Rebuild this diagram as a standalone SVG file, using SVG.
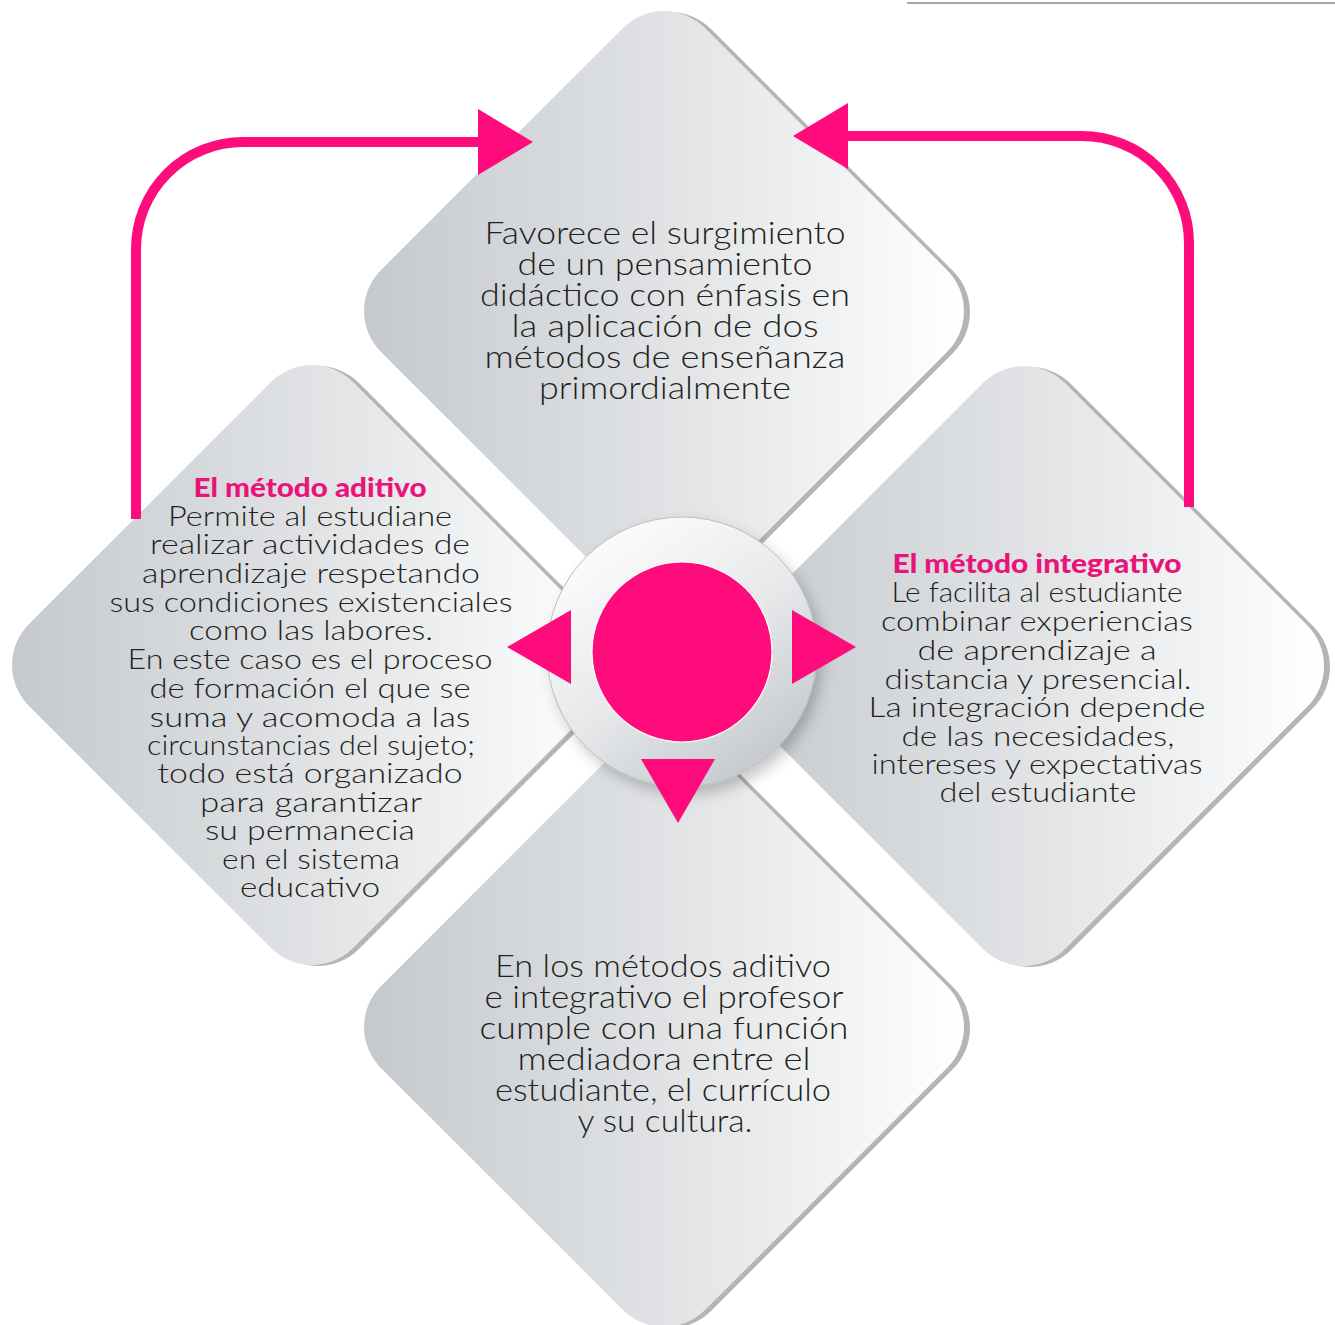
<svg xmlns="http://www.w3.org/2000/svg" xmlns:xlink="http://www.w3.org/1999/xlink" width="1335" height="1325" viewBox="0 0 1335 1325">
<style>
.body{font-family:Lato,"Open Sans","Liberation Sans",sans-serif;font-weight:300;fill:#231f20;text-anchor:middle}
.t32{font-size:32px}
.t28{font-size:28px}
.title{font-family:Lato,"Open Sans","Liberation Sans",sans-serif;font-weight:900;font-size:27px;fill:#e8147a;text-anchor:middle}
.shadow{fill:#b5b5b5}
.face{fill:url(#gFace)}
.pink{fill:#ff0c7c}
.conn{fill:none;stroke:#ff0c7c;stroke-width:10}
</style>
<defs>
<linearGradient id="gFace" x1="0" y1="0" x2="1" y2="0">
<stop offset="0" stop-color="#c5c9ce"/>
<stop offset="0.55" stop-color="#e3e5e7"/>
<stop offset="1" stop-color="#ffffff"/>
</linearGradient>
<linearGradient id="gRing" x1="0.2" y1="0.1" x2="0.8" y2="0.95">
<stop offset="0" stop-color="#fbfbfc"/>
<stop offset="0.5" stop-color="#e6e8ea"/>
<stop offset="1" stop-color="#c4c8cc"/>
</linearGradient>
<filter id="fShadow" x="-20%" y="-20%" width="150%" height="150%">
<feDropShadow dx="5" dy="7" stdDeviation="7" flood-color="#000" flood-opacity="0.22"/>
</filter>
<path id="dia" d="M-41.01,-282.99 A58,58 0 0 1 41.01,-282.99 L282.99,-41.01 A58,58 0 0 1 282.99,41.01 L41.01,282.99 A58,58 0 0 1 -41.01,282.99 L-282.99,41.01 A58,58 0 0 1 -282.99,-41.01 Z"/>
<marker id="arrow" viewBox="0 0 55 66" refX="12" refY="33" markerWidth="55" markerHeight="66" markerUnits="userSpaceOnUse" orient="auto">
<path d="M0,0 L55,33 L0,66 Z" fill="#ff0c7c"/>
</marker>
</defs>
<rect width="1335" height="1325" fill="#ffffff"/>
<line x1="907" y1="3" x2="1335" y2="3" stroke="#8a8a8a" stroke-width="1.6"/>

<g id="node-top">
<use href="#dia" class="shadow" transform="translate(670,312)"/>
<use href="#dia" class="face" transform="translate(664,311)"/>
<text class="body t32"><tspan x="665" y="244" textLength="361" lengthAdjust="spacingAndGlyphs">Favorece el surgimiento</tspan><tspan x="665" y="275" textLength="295" lengthAdjust="spacingAndGlyphs">de un pensamiento</tspan><tspan x="665" y="306" textLength="370" lengthAdjust="spacingAndGlyphs">didáctico con énfasis en</tspan><tspan x="665" y="337" textLength="307" lengthAdjust="spacingAndGlyphs">la aplicación de dos</tspan><tspan x="665" y="368" textLength="361" lengthAdjust="spacingAndGlyphs">métodos de enseñanza</tspan><tspan x="665" y="399" textLength="252" lengthAdjust="spacingAndGlyphs">primordialmente</tspan></text>
</g>

<g id="node-left">
<use href="#dia" class="shadow" transform="translate(318,666)"/>
<use href="#dia" class="face" transform="translate(312,665)"/>
<text class="title" x="310" y="497" textLength="233" lengthAdjust="spacingAndGlyphs">El método aditivo</text>
<text class="body t28"><tspan x="310" y="526" textLength="284" lengthAdjust="spacingAndGlyphs">Permite al estudiane</tspan><tspan x="310" y="554" textLength="320" lengthAdjust="spacingAndGlyphs">realizar actividades de</tspan><tspan x="311" y="583" textLength="338" lengthAdjust="spacingAndGlyphs">aprendizaje respetando</tspan><tspan x="311" y="612" textLength="403" lengthAdjust="spacingAndGlyphs">sus condiciones existenciales</tspan><tspan x="311" y="640" textLength="244" lengthAdjust="spacingAndGlyphs">como las labores.</tspan><tspan x="310" y="669" textLength="365" lengthAdjust="spacingAndGlyphs">En este caso es el proceso</tspan><tspan x="310" y="698" textLength="321" lengthAdjust="spacingAndGlyphs">de formación el que se</tspan><tspan x="310" y="727" textLength="321" lengthAdjust="spacingAndGlyphs">suma y acomoda a las</tspan><tspan x="311" y="755" textLength="328" lengthAdjust="spacingAndGlyphs">circunstancias del sujeto;</tspan><tspan x="310" y="783" textLength="305" lengthAdjust="spacingAndGlyphs">todo está organizado</tspan><tspan x="311" y="812" textLength="222" lengthAdjust="spacingAndGlyphs">para garantizar</tspan><tspan x="310" y="840" textLength="210" lengthAdjust="spacingAndGlyphs">su permanecia</tspan><tspan x="311" y="869" textLength="178" lengthAdjust="spacingAndGlyphs">en el sistema</tspan><tspan x="310" y="897" textLength="140" lengthAdjust="spacingAndGlyphs">educativo</tspan></text>
</g>

<g id="node-right">
<use href="#dia" class="shadow" transform="translate(1030,667)"/>
<use href="#dia" class="face" transform="translate(1024,666)"/>
<text class="title" x="1037" y="573" textLength="289" lengthAdjust="spacingAndGlyphs">El método integrativo</text>
<text class="body t28"><tspan x="1037" y="602" textLength="291" lengthAdjust="spacingAndGlyphs">Le facilita al estudiante</tspan><tspan x="1037" y="631" textLength="312" lengthAdjust="spacingAndGlyphs">combinar experiencias</tspan><tspan x="1037" y="660" textLength="239" lengthAdjust="spacingAndGlyphs">de aprendizaje a</tspan><tspan x="1038" y="689" textLength="307" lengthAdjust="spacingAndGlyphs">distancia y presencial.</tspan><tspan x="1037" y="717" textLength="337" lengthAdjust="spacingAndGlyphs">La integración depende</tspan><tspan x="1038" y="746" textLength="273" lengthAdjust="spacingAndGlyphs">de las necesidades,</tspan><tspan x="1037" y="774" textLength="331" lengthAdjust="spacingAndGlyphs">intereses y expectativas</tspan><tspan x="1038" y="802" textLength="197" lengthAdjust="spacingAndGlyphs">del estudiante</tspan></text>
</g>

<g id="node-bottom">
<use href="#dia" class="shadow" transform="translate(670,1028)"/>
<use href="#dia" class="face" transform="translate(664,1027)"/>
<text class="body t32"><tspan x="663" y="977" textLength="336" lengthAdjust="spacingAndGlyphs">En los métodos aditivo</tspan><tspan x="664" y="1008" textLength="359" lengthAdjust="spacingAndGlyphs">e integrativo el profesor</tspan><tspan x="664" y="1039" textLength="369" lengthAdjust="spacingAndGlyphs">cumple con una función</tspan><tspan x="664" y="1070" textLength="293" lengthAdjust="spacingAndGlyphs">mediadora entre el</tspan><tspan x="663" y="1101" textLength="336" lengthAdjust="spacingAndGlyphs">estudiante, el currículo</tspan><tspan x="665" y="1132" textLength="175" lengthAdjust="spacingAndGlyphs">y su cultura.</tspan></text>
</g>

<g id="node-center">
<circle cx="682" cy="652" r="135" fill="url(#gRing)" stroke="#b9bcc0" stroke-width="1" filter="url(#fShadow)"/>
<circle cx="682" cy="652" r="90" class="pink" stroke="#ffffff" stroke-width="1.2"/>
<polygon class="pink" points="507,647 571,610 571,684"/>
<polygon class="pink" points="856,647 792,610 792,684"/>
<polygon class="pink" points="641,759 715,759 678,823"/>
</g>

<g id="connectors">
<path class="conn" d="M136,519 V249 A107,107 0 0 1 243,142 H490" marker-end="url(#arrow)"/>
<path class="conn" d="M1189,507 V243 A107,107 0 0 0 1082,136 H836" marker-end="url(#arrow)"/>
</g>
</svg>
